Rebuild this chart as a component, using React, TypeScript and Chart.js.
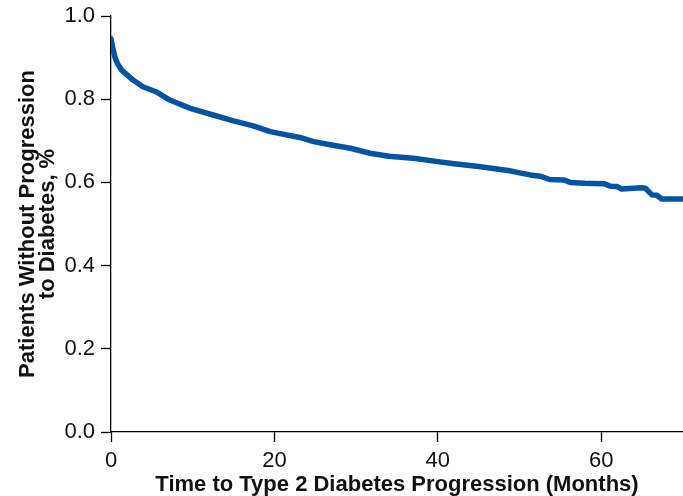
import React, { useEffect, useRef } from "react";
import { Chart, registerables } from "chart.js";

Chart.register(...registerables);

const months = [0, 0.25, 0.5, 0.8, 1.3, 2, 2.7, 3.9, 5.5, 7.2, 9.7, 12.5, 15, 17.4, 19.5, 21, 23.1, 24.8, 27, 29.3, 31.7, 34, 37, 40, 42, 45, 47, 48.8, 50, 51.3, 52.5, 53.7, 55.4, 56.2, 58, 60.3, 61.1, 61.9, 62.5, 64.9, 65.4, 66.2, 66.8, 67.4, 70];
const survival = [0.945, 0.92, 0.9, 0.885, 0.87, 0.858, 0.846, 0.83, 0.818, 0.798, 0.778, 0.762, 0.748, 0.736, 0.722, 0.716, 0.708, 0.698, 0.69, 0.682, 0.67, 0.663, 0.658, 0.65, 0.645, 0.638, 0.633, 0.628, 0.623, 0.618, 0.615, 0.607, 0.606, 0.6, 0.598, 0.597, 0.591, 0.59, 0.584, 0.587, 0.586, 0.57, 0.569, 0.56, 0.56];
const xTicks = [0, 20, 40, 60];
const yTicks = [0, 0.2, 0.4, 0.6, 0.8, 1.0];
const xTitle = "Time to Type 2 Diabetes Progression (Months)";
const yTitle = ["Patients Without Progression", "to Diabetes, %"];

const FONT = "'Liberation Sans', Arial, Helvetica, sans-serif";

export default function App() {
  const ref = useRef<HTMLCanvasElement | null>(null);
  useEffect(() => {
    document.body.style.margin = "0";
    const ctx = ref.current!;
    const chart = new Chart(ctx, {
      type: "line",
      data: {
        datasets: [
          {
            data: months.map((m, i) => ({ x: m, y: survival[i] })),
            borderColor: "#0254a3",
            borderWidth: 5.5,
            pointRadius: 0,
            tension: 0,
            fill: false,
            borderCapStyle: "round",
            borderJoinStyle: "round",
          },
        ],
      },
      options: {
        animation: false,
        responsive: false,
        maintainAspectRatio: false,
        layout: { padding: { top: 16, right: 0, left: 0, bottom: 0 } },
        plugins: { legend: { display: false }, tooltip: { enabled: false } },
        scales: {
          x: {
            type: "linear",
            min: 0,
            max: 70,
            afterBuildTicks: (s: any) => {
              s.ticks = xTicks.map((v) => ({ value: v }));
            },
            afterFit: (s: any) => {
              s.height = 64;
              s.paddingLeft = 0;
              s.paddingRight = 0;
            },
            grid: { display: true, drawOnChartArea: false, color: "#000", tickLength: 10, tickWidth: 1.3 },
            border: { display: true, color: "#000", width: 1.3 },
            ticks: { color: "#111", font: { family: FONT, size: 22 }, padding: 6, maxRotation: 0 },
            title: { display: true, text: xTitle, color: "#111", font: { family: FONT, size: 22, weight: "bold", lineHeight: 1.0 }, padding: { top: 0, bottom: 0 } },
          },
          y: {
            min: 0,
            max: 1,
            afterBuildTicks: (s: any) => {
              s.ticks = yTicks.map((v) => ({ value: v }));
            },
            afterFit: (s: any) => {
              s.width = 111;
              s.paddingTop = 0;
              s.paddingBottom = 0;
            },
            grid: { display: true, drawOnChartArea: false, color: "#000", tickLength: 10, tickWidth: 1.3 },
            border: { display: true, color: "#000", width: 1.3 },
            ticks: { color: "#111", font: { family: FONT, size: 22 }, padding: 6, callback: (v: any) => Number(v).toFixed(1) },
            title: { display: true, text: yTitle, color: "#111", font: { family: FONT, size: 22, weight: "bold", lineHeight: 0.92 }, padding: { top: 18, bottom: 0 } },
          },
        },
      },
    });
    return () => chart.destroy();
  }, []);
  return (
    <div style={{ position: "fixed", left: 0, top: 0, width: 683, height: 496 }}>
      <canvas ref={ref} width={683} height={496} style={{ width: 683, height: 496 }} />
    </div>
  );
}
